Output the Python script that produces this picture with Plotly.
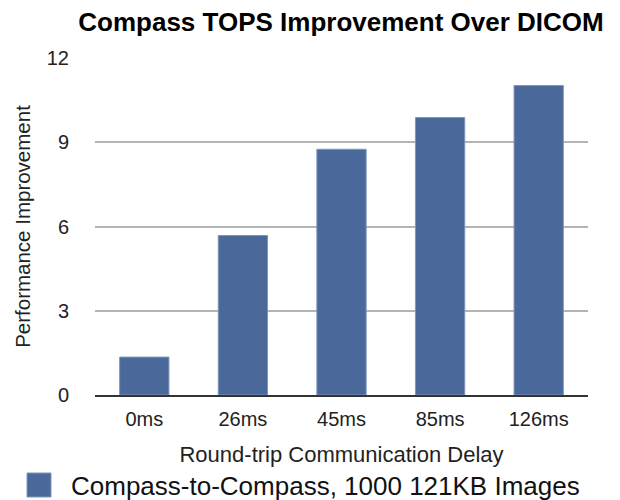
import plotly.graph_objects as go

categories = ["0ms", "26ms", "45ms", "85ms", "126ms"]
values = [1.35, 5.68, 8.75, 9.88, 11.02]
series_name = "Compass-to-Compass, 1000 121KB Images"
y_ticks = [0, 3, 6, 9, 12]

# the page adds an 8px body margin; figure coords = page coords - 8
W, H = 612, 492
L, R, T, B = 87, 32, 50, 105
pw, ph = W - L - R, H - T - B

def px(x):
    return (x - L) / pw

def py(y):
    return (H - B - y) / ph

bar_color = "#4a6899"
edge_color = "#7f96bb"
font = "Liberation Sans, Arial, Helvetica, sans-serif"

fig = go.Figure()
fig.add_trace(go.Bar(
    x=categories, y=values, name=series_name,
    marker=dict(color=bar_color, line=dict(color=edge_color, width=1)),
    showlegend=False,
))

fig.update_layout(
    width=W, height=H,
    margin=dict(l=L, r=R, t=T, b=B),
    paper_bgcolor="white", plot_bgcolor="white",
    bargap=0.5,
    font=dict(family=font, color="#111"),
    title=dict(text="<b>Compass TOPS Improvement Over DICOM</b>",
               xref="container", x=333 / W, xanchor="center",
               y=1 - 14 / H, yanchor="middle",
               font=dict(size=26, color="#000")),
    xaxis=dict(showline=True, linecolor="#333", linewidth=2,
               tickfont=dict(size=20, color="#222"), ticks="",
               ticklabelstandoff=5,
               title=dict(text="Round-trip Communication Delay", standoff=18,
                          font=dict(size=22, color="#222")),
               automargin=False),
    yaxis=dict(range=[0, 12], tickvals=y_ticks, showgrid=True,
               gridcolor="#b4b4b4", gridwidth=1.5, zeroline=False,
               showline=False, ticks="", ticklabelstandoff=25,
               tickfont=dict(size=20, color="#222"),
               title=dict(text="Performance Improvement", standoff=10,
                          font=dict(size=20.5, color="#222")),
               automargin=False),
)

# legend swatch and label
fig.add_shape(type="rect", xref="paper", yref="paper",
              x0=px(19), x1=px(43), y0=py(489), y1=py(465),
              fillcolor=bar_color, line=dict(color=edge_color, width=1))
fig.add_annotation(text=series_name, xref="paper", yref="paper",
                   x=px(61), y=py(478), xanchor="left", yanchor="middle",
                   showarrow=False, font=dict(size=26, color="#111"))

fig.write_html("out.html")
